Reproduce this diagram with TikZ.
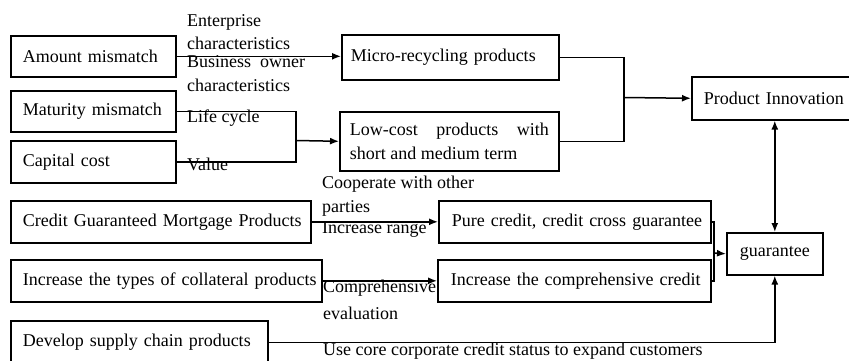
\documentclass[tikz,border=0pt]{standalone}
\usepackage{fontspec}
\setmainfont{Liberation Serif}
\usepackage{tikz}
\usetikzlibrary{calc, arrows.meta}
\tikzstyle{block} = [rectangle, draw, line width=1.6pt, anchor=north west,
inner xsep=12pt, inner ysep=2pt, align=left, minimum height=42pt]
\tikzstyle{note} = [anchor=base west, inner sep=0pt, align=left]
\tikzstyle{wire} = [draw, line width=1.5pt]
\tikzstyle{line} = [wire, -{Latex[length=9pt,width=7pt]}]
\tikzstyle{dline} = [wire, {Latex[length=9pt,width=7pt]}-{Latex[length=9pt,width=7pt]}]

\begin{document}
\begin{tikzpicture}[x=1pt, y=-1pt, font=\fontsize{18}{24}\selectfont]
	\useasboundingbox (0,0) rectangle (849,361);
	% Place nodes
	\node [block, text width=141pt, minimum height=41pt] (amount) at (10,35) {Amount mismatch};
	\node [block, text width=141pt, minimum height=41pt] (maturity) at (10,90) {Maturity mismatch};
	\node [block, text width=141pt] (capital) at (10,140) {Capital cost};
	\node [block, text width=199pt, inner xsep=9pt, minimum height=45pt] (micro) at (341,34) {Micro-recycling products};
	\node [block, text width=199pt, inner xsep=10pt, align=justify, minimum height=59pt] (lowcost) at (339,111) {Low-cost products with short and medium term};
	\node [block, text width=142pt, minimum height=43pt] (pi) at (691,76) {Product Innovation};
	%
	\node [block, text width=276pt] (credit) at (10,200) {\mbox{Credit Guaranteed Mortgage Products}};
	\node [block, text width=287pt] (types) at (10,259) {\mbox{Increase the types of collateral products}};
	\node [block, text width=233pt, minimum height=43pt] (develop) at (10,320) {Develop supply chain products};
	\node [block, text width=246pt, inner xsep=13pt] (pure) at (438,200) {\mbox{Pure credit, credit cross guarantee}};
	\node [block, text width=247pt, inner xsep=13pt] (comp) at (437,259) {\mbox{Increase the comprehensive credit}};
	\node [block, text width=72pt, align=center] (guarantee) at (726,232) {guarantee};
	
	% Labels on the connectors (base = last line)
	\node [note] (enterprise) at (187,50) {Enterprise\\characteristics};
	\node [note] (owner) at (187,92) {Business\enspace owner\\characteristics};
	\node [note] (life) at (187,122) {Life cycle};
	\node [note] (value) at (187,170) {Value};
	\node [note] (cooperate) at (322,212) {Cooperate with other\\parties};
	\node [note] (range) at (322,233) {Increase range};
	\node [note] (evaluation) at (323,319) {Comprehensive\\[3pt]evaluation};
	\node [note] (core) at (323,355) {Use core corporate credit status to expand customers};
	
	% Joints
	\coordinate (jointA) at (296,140.5);
	\coordinate (jointB) at (624,97.5);
	\coordinate (jointC) at (714,253);
	
	\path [line] (amount.east) -- (amount.east -| micro.west);
	\path [wire] (maturity.east) -| (jointA) |- (capital.east);
	\path [line] (jointA) -- (lowcost.west);
	\path [wire] (micro.east) -| (jointB) |- (lowcost.east);
	\path [line] (jointB) -- (pi.west);
	%
	\path [line] (credit) -- (pure);
	\path [line] (types) -- (comp);
	\path [wire] (pure.east) -| (jointC) |- (comp.east);
	\path [line] (jointC) -- (guarantee.west);
	\path [line] (develop.east) -| (guarantee.south);
	\path [dline] (pi.south) -- (guarantee.north);
\end{tikzpicture}
\end{document}
